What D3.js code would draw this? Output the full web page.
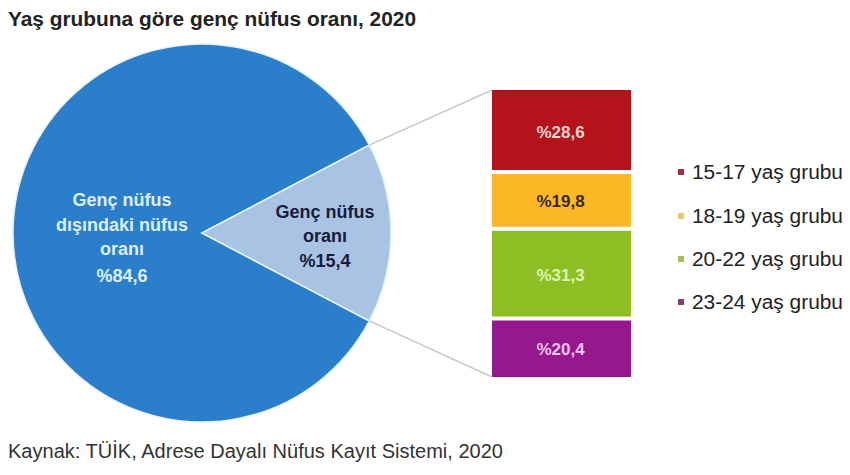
<!DOCTYPE html>
<html><head><meta charset="utf-8">
<script src="https://cdn.jsdelivr.net/npm/d3@7"></script>
<style>body{margin:0;background:#fff}svg{display:block}</style>
</head><body>
<svg id="c" width="850" height="475"></svg>
<script>
const title = "Yaş grubuna göre genç nüfus oranı, 2020";
const source = "Kaynak: TÜİK, Adrese Dayalı Nüfus Kayıt Sistemi, 2020";
const pieLabels = [["Genç nüfus","dışındaki nüfus","oranı"],["Genç nüfus","oranı"]];
const pieValues = [84.6, 15.4];
const pieColors = ["#2b7fca", "#a9c3e5"];
const pieTextColors = ["#dcefff", "#161c3a"];
const ageGroups = ["15-17 yaş grubu","18-19 yaş grubu","20-22 yaş grubu","23-24 yaş grubu"];
const ageValues = [28.6, 19.8, 31.3, 20.4];
const ageColors = ["#b4131b", "#fdb827", "#8dbf25", "#95188c"];
const ageTextColors = ["#f6d3d3", "#3b2a00", "#dff3b8", "#f2c4ef"];
const legendColors = ["#a3303c", "#e6c774", "#a5bf5e", "#8a3a86"];

const svg = d3.select("#c");
const font = "'Liberation Sans', Arial, sans-serif";
const pct = v => "%" + d3.format(".1f")(v).replace(".", ",");

svg.append("text").attr("x", 8).attr("y", 26).attr("font-family", font)
  .attr("font-size", 20).attr("font-weight", "bold").attr("fill", "#222")
  .attr("textLength", 408).attr("lengthAdjust", "spacingAndGlyphs").text(title);
svg.append("text").attr("x", 8).attr("y", 458).attr("font-family", font)
  .attr("font-size", 20).attr("fill", "#333")
  .attr("textLength", 495).attr("lengthAdjust", "spacingAndGlyphs").text(source);

// Pie
const cx = 202, cy = 233, r = 189;
const smallAng = 2 * Math.PI * pieValues[1] / d3.sum(pieValues);
const start = Math.PI / 2 + smallAng / 2;
const pie = d3.pie().sort(null).value(d => d).startAngle(start).endAngle(start + 2 * Math.PI);
const arcs = pie(pieValues);
const arc = d3.arc().innerRadius(0).outerRadius(r);
const g = svg.append("g").attr("transform", `translate(${cx},${cy})`);
g.selectAll("path").data(arcs).join("path").attr("d", arc)
  .attr("fill", (d, i) => pieColors[i]).attr("stroke", "#e8f2fb").attr("stroke-width", 1.5);

// Pie labels
const mainLines = pieLabels[0].concat([pct(pieValues[0])]);
const mt = svg.append("text").attr("font-family", font).attr("font-size", 18).attr("font-weight", "bold")
  .attr("fill", pieTextColors[0]).attr("text-anchor", "middle");
const mainY = [206, 231, 255, 282];
mainLines.forEach((l, i) => mt.append("tspan").attr("x", 122).attr("y", mainY[i]).text(l));
const smallLines = pieLabels[1].concat([pct(pieValues[1])]);
const st = svg.append("text").attr("font-family", font).attr("font-size", 18).attr("font-weight", "bold")
  .attr("fill", pieTextColors[1]).attr("text-anchor", "middle");
const smallY = [218, 242, 267];
smallLines.forEach((l, i) => st.append("tspan").attr("x", 325).attr("y", smallY[i]).text(l));

// Stacked bar
const bx0 = 492, bx1 = 631, bTop = 90, bBot = 377;
const y = d3.scaleLinear().domain([0, d3.sum(ageValues)]).range([bTop, bBot]);
let cum = 0;
const segs = ageValues.map((v, i) => { const s = { i, v, y0: cum, y1: cum + v }; cum += v; return s; });
const gap = 2;
svg.selectAll("rect.seg").data(segs).join("rect").attr("class", "seg")
  .attr("x", bx0).attr("width", bx1 - bx0)
  .attr("y", d => y(d.y0) + (d.i > 0 ? gap : 0))
  .attr("height", d => y(d.y1) - y(d.y0) - (d.i > 0 ? gap : 0) - (d.i < 3 ? gap : 0))
  .attr("fill", d => ageColors[d.i]);
svg.selectAll("text.seg").data(segs).join("text").attr("class", "seg")
  .attr("x", (bx0 + bx1) / 2 - 1).attr("y", d => (y(d.y0) + y(d.y1)) / 2 + 7)
  .attr("text-anchor", "middle").attr("font-family", font).attr("font-size", 17).attr("font-weight", "bold")
  .attr("fill", d => ageTextColors[d.i]).text(d => pct(d.v));

// Connector lines
const a1 = arcs[1];
const pt = a => [cx + r * Math.sin(a), cy - r * Math.cos(a)];
const pUp = pt(a1.startAngle), pDn = pt(a1.endAngle);
svg.append("line").attr("x1", pUp[0]).attr("y1", pUp[1]).attr("x2", bx0).attr("y2", bTop)
  .attr("stroke", "#c4c9cf").attr("stroke-width", 1.5);
svg.append("line").attr("x1", pDn[0]).attr("y1", pDn[1]).attr("x2", bx0).attr("y2", bBot)
  .attr("stroke", "#c4c9cf").attr("stroke-width", 1.5);

// Legend
const ly = [172, 216, 259, 302];
const lg = svg.selectAll("g.leg").data(ageGroups).join("g").attr("class", "leg")
  .attr("transform", (d, i) => `translate(678,${ly[i]})`);
lg.append("rect").attr("x", 0).attr("y", -3).attr("width", 6).attr("height", 6)
  .attr("fill", (d, i) => legendColors[i]);
lg.append("text").attr("x", 14).attr("y", 7).attr("font-family", font).attr("font-size", 20)
  .attr("fill", "#222").attr("textLength", 151).attr("lengthAdjust", "spacingAndGlyphs").text(d => d);
</script>
</body></html>
